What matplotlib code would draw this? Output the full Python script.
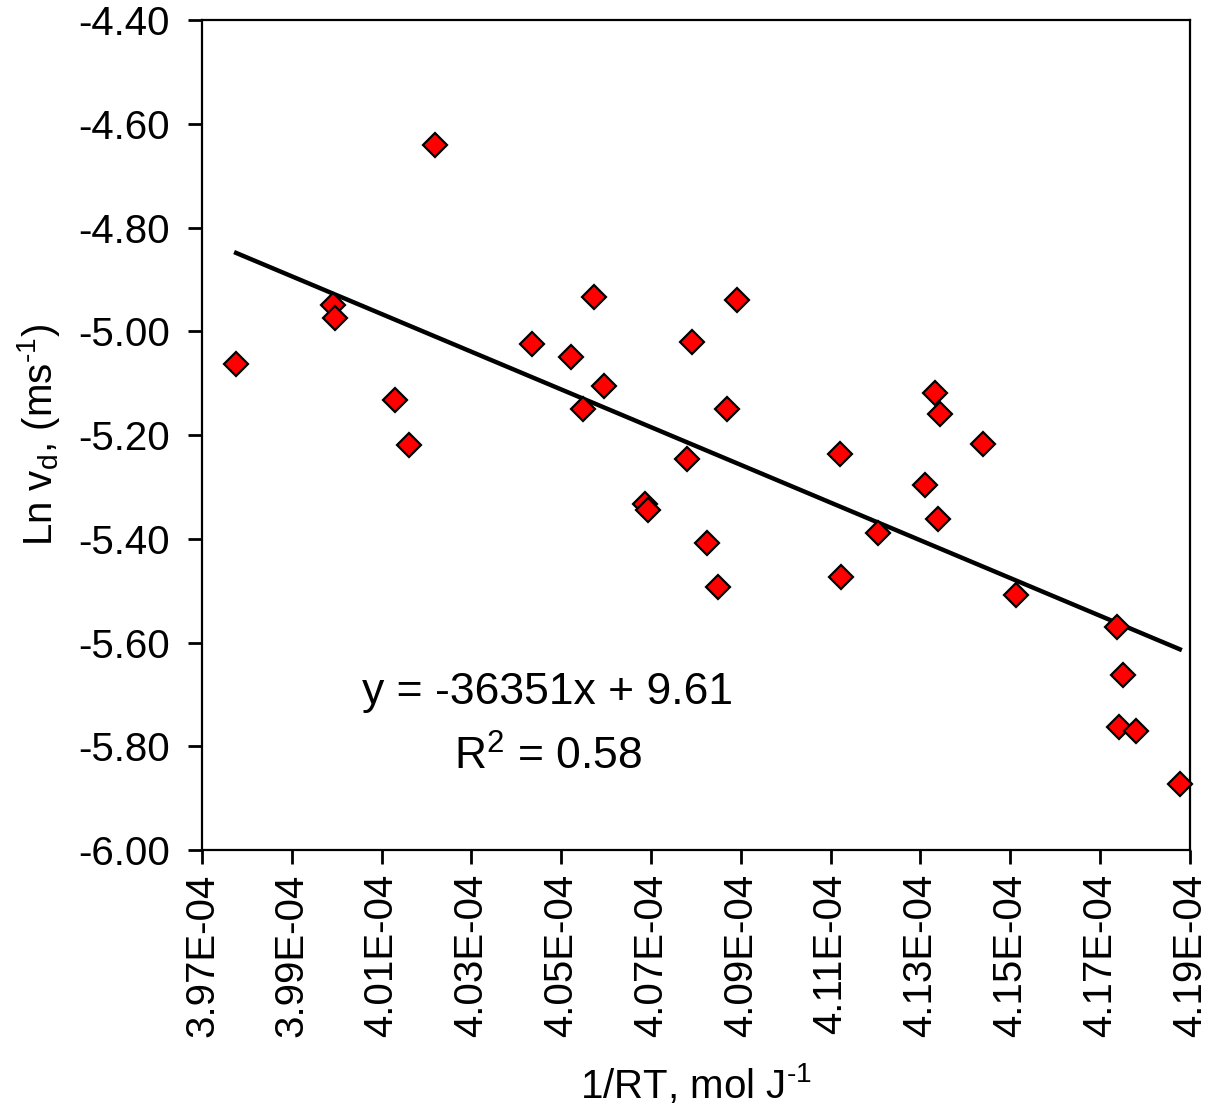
import numpy as np
import matplotlib
matplotlib.use("Agg")
import matplotlib.pyplot as plt
from matplotlib.ticker import FuncFormatter

plt.rcParams['font.family'] = ['Liberation Sans', 'DejaVu Sans']
plt.rcParams['mathtext.fontset'] = 'custom'
plt.rcParams['mathtext.rm'] = 'Liberation Sans'
plt.rcParams['mathtext.it'] = 'Liberation Sans'
plt.rcParams['axes.unicode_minus'] = False

# data
inv_rt = [3.9776e-4, 3.9992e-4, 3.9996e-4, 4.0130e-4, 4.0161e-4, 4.0219e-4,
          4.0435e-4, 4.0522e-4, 4.0549e-4, 4.0573e-4, 4.0595e-4, 4.0687e-4,
          4.0693e-4, 4.0780e-4, 4.0791e-4, 4.0825e-4, 4.0849e-4, 4.0869e-4,
          4.0892e-4, 4.1121e-4, 4.1123e-4, 4.1206e-4, 4.1310e-4, 4.1333e-4,
          4.1344e-4, 4.1339e-4, 4.1439e-4, 4.1513e-4, 4.1738e-4, 4.1751e-4,
          4.1742e-4, 4.1780e-4, 4.1878e-4]
ln_vd = [-5.063, -4.949, -4.974, -5.133, -5.219, -4.641,
         -5.025, -5.050, -5.150, -4.934, -5.106, -5.333,
         -5.345, -5.246, -5.021, -5.408, -5.493, -5.150,
         -4.940, -5.237, -5.474, -5.389, -5.296, -5.119,
         -5.160, -5.362, -5.217, -5.508, -5.570, -5.663,
         -5.763, -5.771, -5.873]

# trendline shown on the chart
slope = -36351
intercept = 9.61
r2 = 0.58

xticks = [3.97e-4, 3.99e-4, 4.01e-4, 4.03e-4, 4.05e-4, 4.07e-4,
          4.09e-4, 4.11e-4, 4.13e-4, 4.15e-4, 4.17e-4, 4.19e-4]
yticks = [-6.00, -5.80, -5.60, -5.40, -5.20, -5.00, -4.80, -4.60, -4.40]

fig = plt.figure(figsize=(12.14, 11.12), dpi=100)
ax = fig.add_axes([0.1664, 0.2356, 0.8136, 0.7464])

xfit = np.array([min(inv_rt), max(inv_rt)])
ax.plot(xfit, slope * xfit + intercept, color='black', lw=3.2, zorder=2)

ax.plot(inv_rt, ln_vd, linestyle='none', marker='D', markersize=12.5,
        markerfacecolor='#ff0000', markeredgecolor='black',
        markeredgewidth=1.6, zorder=3, clip_on=False)

ax.set_xlim(xticks[0], xticks[-1])
ax.set_ylim(yticks[0], yticks[-1])
ax.set_xticks(xticks)
ax.set_yticks(yticks)
ax.xaxis.set_major_formatter(FuncFormatter(lambda v, p: f"{v:.2E}"))
ax.yaxis.set_major_formatter(FuncFormatter(lambda v, p: f"{v:.2f}"))
ax.tick_params(axis='both', direction='out', length=10, width=2,
               labelsize=29)
ax.tick_params(axis='x', labelrotation=90, pad=7)
ax.tick_params(axis='y', pad=13)
for s in ax.spines.values():
    s.set_linewidth(1.6)

ax.set_xlabel(r'1/RT, mol J$^{\text{-1}}$', fontsize=29, labelpad=18)
ax.set_ylabel(r'Ln v$_{\mathrm{d}}$, (ms$^{\text{-1}}$)', fontsize=29, labelpad=12)

ax.text(0.35, 0.19, f"y = {slope}x + {intercept}", transform=ax.transAxes,
        fontsize=32, ha='center', va='center')
ax.text(0.35, 0.112, f"R$^2$ = {r2}", transform=ax.transAxes,
        fontsize=32, ha='center', va='center')

fig.savefig("out.png", dpi=100)
